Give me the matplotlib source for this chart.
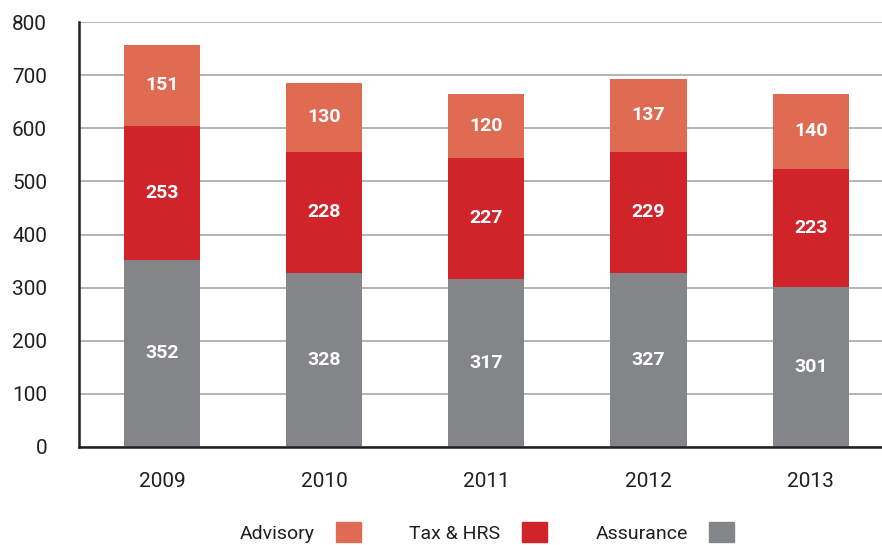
import matplotlib.pyplot as plt
from matplotlib.patches import Patch
import numpy as np

years = ["2009", "2010", "2011", "2012", "2013"]
assurance = [352, 328, 317, 327, 301]
tax_hrs = [253, 228, 227, 229, 223]
advisory = [151, 130, 120, 137, 140]

c_adv = "#df6b53"
c_tax = "#d1232a"
c_ass = "#848589"

plt.rcParams["font.family"] = ["Roboto", "DejaVu Sans"]

fig = plt.figure(figsize=(8.82, 5.45), dpi=100)
ax = fig.add_axes([79 / 882, 98 / 545, 803 / 882, 425 / 545])

x = np.arange(len(years))
w = 0.47
ass = np.array(assurance)
tax = np.array(tax_hrs)
adv = np.array(advisory)

ax.bar(x, ass, w, color=c_ass, zorder=2)
ax.bar(x, tax, w, bottom=ass, color=c_tax, zorder=2)
ax.bar(x, adv, w, bottom=ass + tax, color=c_adv, zorder=2)

for i in range(len(years)):
    for base, val in [(0, ass[i]), (ass[i], tax[i]), (ass[i] + tax[i], adv[i])]:
        ax.text(x[i], base + val / 2, str(val), ha="center", va="center",
                color="white", fontsize=14, fontweight="bold", zorder=3)

ax.set_ylim(0, 800)
ax.set_xlim(-0.512, 4.44)
ax.set_yticks(range(0, 801, 100))
ax.set_xticks(x)
ax.set_xticklabels(years)
ax.yaxis.grid(True, color="#a0a0a0", linewidth=1.1, zorder=0)
ax.set_axisbelow(True)

for s in ["top", "right"]:
    ax.spines[s].set_visible(False)
for s in ["left", "bottom"]:
    ax.spines[s].set_color("#231f20")
    ax.spines[s].set_linewidth(1.8)

ax.tick_params(axis="both", length=0, labelsize=15, colors="#231f20")
ax.tick_params(axis="y", pad=23)
ax.tick_params(axis="x", pad=18)

handles = [Patch(color=c_adv, label="Advisory"),
           Patch(color=c_tax, label="Tax & HRS"),
           Patch(color=c_ass, label="Assurance")]
fig.legend(handles=handles, loc="lower center", bbox_to_anchor=(0.552, -0.014),
           ncol=3, frameon=False, markerfirst=False, fontsize=14,
           handlelength=1.28, handleheight=1.2, handletextpad=1.1,
           columnspacing=2.5, borderpad=0, labelcolor="#231f20")

fig.savefig("out.png", dpi=100)
